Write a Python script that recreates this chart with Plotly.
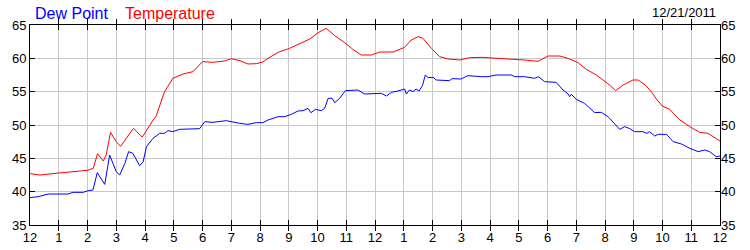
import plotly.graph_objects as go

# hours since midnight
temp_hours = [0, 0.35, 1.0, 2.0, 2.2, 2.35, 2.55, 2.65, 2.8, 3.0, 3.15, 3.5, 3.6, 3.9, 4.0, 4.28, 4.38,
              4.68, 4.97, 5.32, 5.67, 6.0, 6.36, 6.77, 7.0, 7.3, 7.58, 7.87, 8.1, 8.28, 8.63, 9.03,
              9.44, 9.73, 10.02, 10.3, 10.6, 10.95, 11.23, 11.52, 11.87, 12.16, 12.63, 12.8, 13.03,
              13.26, 13.5, 13.67, 13.96, 14.25, 14.54, 14.95, 15.29, 15.7, 16.1, 16.86, 17.2, 17.67,
              18.02, 18.43, 18.71, 19.06, 19.35, 19.7, 19.93, 20.16, 20.37, 20.63, 20.97, 21.15, 21.4,
              21.61, 21.79, 21.99, 22.25, 22.6, 22.95, 23.29, 23.58, 23.87, 24.0]
temperature = [42.7, 42.5, 42.8, 43.2, 43.5, 45.7, 44.6, 45.5, 48.9, 47.5, 46.8, 48.9, 49.5, 48.2, 48.8,
               50.75, 51.25, 55.0, 57.0, 57.65, 58.0, 59.5, 59.4, 59.6, 59.95, 59.65, 59.15, 59.2,
               59.45, 60.0, 60.9, 61.5, 62.25, 62.9, 63.85, 64.5, 63.4, 62.35, 61.35, 60.5, 60.5,
               60.95, 60.95, 61.25, 61.65, 62.75, 63.25, 63.0, 61.5, 60.25, 59.9, 59.75, 60.1, 60.15,
               60.05, 59.9, 59.75, 59.55, 60.35, 60.35, 60.0, 59.35, 58.35, 57.5, 56.75, 56.0, 55.15,
               56.0, 56.75, 56.75, 56.0, 55.0, 53.9, 52.85, 52.35, 50.75, 49.75, 48.9, 48.75, 48.0, 47.6]

dew_hours = [0, 0.28, 0.63, 0.97, 1.32, 1.5, 1.85, 2.02, 2.19, 2.34, 2.6, 2.77, 3.0, 3.12, 3.3, 3.43,
             3.58, 3.81, 3.93, 4.05, 4.28, 4.51, 4.68, 4.8, 4.97, 5.2, 5.55, 5.9, 6.08, 6.36, 6.83,
             7.1, 7.29, 7.58, 7.87, 8.1, 8.28, 8.63, 8.86, 9.09, 9.32, 9.5, 9.67, 9.77, 9.93, 10.13,
             10.25, 10.37, 10.51, 10.6, 10.77, 10.97, 11.3, 11.4, 11.64, 11.93, 12.22, 12.4, 12.57,
             12.8, 13.03, 13.09, 13.2, 13.32, 13.43, 13.53, 13.65, 13.75, 13.85, 14.02, 14.13, 14.59,
             14.68, 14.99, 15.23, 15.7, 15.93, 16.21, 16.74, 16.86, 17.2, 17.55, 17.69, 17.9, 18.3,
             18.54, 18.72, 18.77, 18.83, 19.0, 19.29, 19.64, 19.87, 20.1, 20.16, 20.51, 20.68, 20.84,
             21.03, 21.32, 21.45, 21.55, 21.73, 21.85, 22.14, 22.37, 22.66, 22.95, 23.24, 23.47,
             23.64, 23.87, 24.0]
dew_point = [39.1, 39.25, 39.65, 39.6, 39.65, 39.9, 39.9, 40.15, 40.25, 42.85, 41.1, 45.5, 43.0, 42.5,
             44.25, 46.0, 45.75, 43.9, 44.4, 46.75, 48.0, 48.75, 48.75, 49.15, 49.0, 49.35, 49.35,
             49.45, 50.5, 50.4, 50.65, 50.35, 50.25, 50.1, 50.35, 50.35, 50.75, 51.25, 51.25, 51.6,
             52.1, 52.15, 52.5, 51.85, 52.35, 52.15, 52.5, 54.0, 54.0, 53.35, 54.0, 55.15, 55.15,
             55.25, 54.65, 54.65, 54.75, 54.35, 54.9, 55.1, 55.4, 54.65, 55.25, 55.0, 55.4, 55.1,
             55.9, 57.5, 57.1, 57.15, 56.75, 56.65, 56.95, 56.9, 57.4, 57.25, 57.25, 57.5, 57.5,
             57.25, 57.25, 57.0, 57.25, 56.5, 56.4, 55.25, 54.65, 54.25, 54.6, 53.85, 53.25, 51.85,
             51.9, 51.25, 51.0, 49.35, 49.75, 49.5, 49.0, 49.0, 48.75, 49.0, 48.35, 48.6, 48.6, 47.5,
             47.15, 46.5, 46.0, 46.25, 46.0, 45.25, 45.35]

x_tick_vals = list(range(0, 25))
x_tick_text = ["12", "1", "2", "3", "4", "5", "6", "7", "8", "9", "10", "11",
               "12", "1", "2", "3", "4", "5", "6", "7", "8", "9", "10", "11", "12"]
y_tick_vals = [35, 40, 45, 50, 55, 60, 65]
series_names = ["Dew Point", "Temperature"]
date_label = "12/21/2011"

FONT = "Liberation Sans, Arial, sans-serif"
GRID = "#c8c8c8"

fig = go.Figure()
fig.add_trace(go.Scatter(x=dew_hours, y=dew_point, mode="lines", name=series_names[0],
                         line=dict(color="#0000ff", width=1), showlegend=False, hoverinfo="skip"))
fig.add_trace(go.Scatter(x=temp_hours, y=temperature, mode="lines", name=series_names[1],
                         line=dict(color="#ff0000", width=1), showlegend=False, hoverinfo="skip"))
# invisible trace for right axis
fig.add_trace(go.Scatter(x=[0], y=[35], yaxis="y2", mode="markers", marker=dict(opacity=0),
                         showlegend=False, hoverinfo="skip"))

fig.update_layout(
    width=750, height=250,
    margin=dict(l=30, r=30, t=25, b=25, autoexpand=False),
    paper_bgcolor="white", plot_bgcolor="white",
    font=dict(family=FONT, size=13, color="black"),
    xaxis=dict(range=[0, 24], tickmode="array", tickvals=x_tick_vals, ticktext=x_tick_text,
               showgrid=True, gridcolor=GRID, gridwidth=1, zeroline=False, automargin=False,
               showline=True, linecolor="black", linewidth=1, mirror="allticks",
               ticks="inside", ticklen=5, tickcolor="black",
               tickfont=dict(family=FONT, size=13)),
    yaxis=dict(range=[35, 65], tickmode="array", tickvals=y_tick_vals, automargin=False,
               showgrid=True, gridcolor=GRID, gridwidth=1, zeroline=False,
               showline=True, linecolor="black", linewidth=1, mirror="allticks",
               ticks="inside", ticklen=5, tickcolor="black",
               tickfont=dict(family=FONT, size=13)),
    yaxis2=dict(range=[35, 65], tickmode="array", tickvals=y_tick_vals, overlaying="y",
                side="right", showgrid=False, zeroline=False, showline=False, ticks="",
                automargin=False, tickfont=dict(family=FONT, size=13)),
)

fig.add_annotation(text=series_names[0], xref="paper", yref="paper", x=(33 - 30) / 690,
                   y=1.0, yanchor="bottom", xanchor="left", yshift=1, showarrow=False,
                   font=dict(family=FONT, size=16, color="#0000ff"))
fig.add_annotation(text=series_names[1], xref="paper", yref="paper", x=(123 - 30) / 690,
                   y=1.0, yanchor="bottom", xanchor="left", yshift=1, showarrow=False,
                   font=dict(family=FONT, size=16, color="#ff0000"))
fig.add_annotation(text=date_label, xref="paper", yref="paper", x=(718 - 30) / 690,
                   y=1.0, yanchor="bottom", xanchor="right", yshift=3, showarrow=False,
                   font=dict(family=FONT, size=13, color="black"))

fig.write_html("out.html")
